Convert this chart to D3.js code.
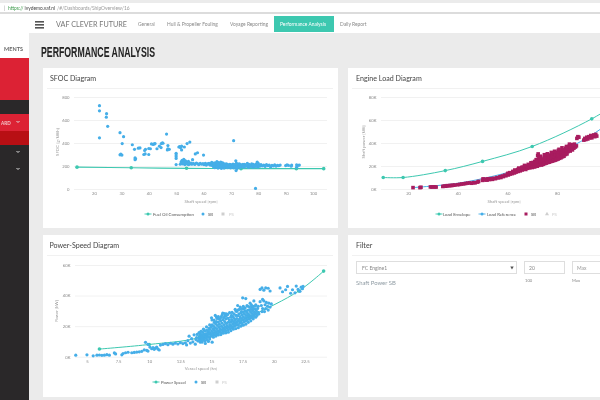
<!DOCTYPE html>
<html>
<head>
<meta charset="utf-8">
<script src="https://cdn.jsdelivr.net/npm/d3@7"></script>
<style>
  html, body { margin: 0; padding: 0; background: #ebebeb; overflow: hidden; }
  svg { display: block; font-family: Lato, "Open Sans", sans-serif; filter: blur(0.4px); }
</style>
</head>
<body>
<svg id="page" width="600" height="400"></svg>
<script>
// tabs and tick labels
const navTabs = ["General", "Hull & Propeller Fouling", "Voyage Reporting", "Performance Analysis", "Daily Report"];
const navTabX = [138, 167, 230, 280, 340];
const sfocTicks = [0, 200, 400, 600, 800];
const sfocSpeedTicks = [20, 30, 40, 50, 60, 70, 80, 90, 100];
const loadTicks = [0, 20000, 40000, 60000, 80000];
const loadSpeedTicks = [20, 40, 60, 80];
const powerTicks = [0, 20000, 40000, 60000];
const vesselSpeedTicks = [5, 7.5, 10, 12.5, 15, 17.5, 20, 22.5];

// lines, [x, y]
const fuelOilConsumption = [[13.8, 190], [33.6, 185], [53.8, 180], [73.7, 177], [93.9, 177], [103.9, 177]];
const loadEnvelope = [[10, 10000], [18, 10000], [35, 16000], [50, 24000], [70, 37000], [94, 61000], [106, 77000]];
const loadReference = [[22, 1200], [40, 5000], [55, 11500], [65, 17500], [75, 25500], [85, 36000], [94, 47000], [106, 65000]];
const powerSpeed = [[6, 5000], [10, 8000], [14, 12500], [18, 26000], [22, 43000], [24, 56000]];

// SFOC scatter, [rpm, g/kWh]
const sfocSb = [
  [22, 725], [22, 680], [24.6, 655], [24.5, 625], [25, 545], [22, 445], [29.5, 490], [30.8, 455], [30.3, 395],
  [29.5, 297], [29.8, 303], [30.2, 295], [34, 385], [34.8, 345], [35, 270], [35, 255], [35.2, 262], [36.2, 355],
  [36.8, 357], [38.2, 300], [38.5, 335], [38.8, 345], [38.7, 305], [40, 300], [40, 352], [40.6, 350], [41, 392],
  [41.6, 388], [42, 392], [42.3, 395], [43, 350], [43.9, 372], [44.5, 360], [44.6, 395], [45, 402], [45.2, 398],
  [46.5, 478], [46.8, 340], [47, 350], [47, 378], [47.5, 345], [50, 310], [50, 295], [50, 280], [50, 265], [50, 212],
  [51, 365], [51.3, 368], [51.6, 360], [52, 372], [52, 340], [53, 365], [54, 395], [55, 408], [56, 255], [57, 305],
  [57.8, 315], [60, 295], [71, 420], [79, 5], [54.5, 240], [55, 222],
  [51.5, 215], [51.8, 235], [52, 225], [52.2, 250], [52.4, 218], [52.6, 240], [52.8, 258], [53, 228], [53.2, 212],
  [53.4, 245], [53.6, 222], [53.9, 235], [54.2, 215], [54.6, 212], [55.3, 218], [55.8, 215], [56.3, 222], [56.8, 214],
  [57.4, 226], [57.9, 218], [58.3, 212], [58.8, 222], [59.3, 215], [59.8, 220], [60.2, 212], [60.7, 222], [61.2, 215],
  [61.7, 220], [62.2, 212], [62.7, 218], [63, 232], [63.2, 205], [63.4, 222], [63.6, 195], [63.9, 215], [64.1, 185],
  [64.3, 228], [64.5, 205], [64.7, 192], [64.9, 238], [65.1, 215], [65.3, 182], [65.5, 200], [65.7, 225], [65.9, 190],
  [66.1, 212], [66.3, 235], [66.5, 180], [66.7, 202], [66.9, 222], [67.1, 192], [67.3, 212], [67.5, 182], [67.8, 205],
  [68.1, 195], [68.4, 218], [68.7, 186], [69, 208], [69.3, 196], [69.6, 214], [69.9, 184], [70.2, 204], [70.5, 192],
  [70.8, 216], [71.1, 184], [71.4, 206], [71.6, 196], [71.8, 245], [71.9, 160], [72, 225], [72.2, 178], [72.5, 210],
  [72.8, 192], [73.1, 218], [73.4, 186], [73.7, 206], [74, 196], [74.4, 214], [74.8, 190], [75.2, 208], [75.6, 198],
  [76, 222], [76.4, 188], [76.8, 208], [77.2, 196], [77.6, 218], [78, 190], [78.4, 206], [78.8, 198], [79.2, 216],
  [79.6, 235], [79.8, 190], [80.2, 208], [80.6, 198], [81, 212], [81.5, 200], [82, 208], [82.5, 196], [83, 212],
  [83.5, 202], [84, 208], [84.5, 192], [85, 206], [85.5, 200], [86, 210], [86.5, 198], [87, 206], [87.5, 202],
  [88, 208], [90, 204], [90.5, 210], [91, 206], [92, 198], [92.2, 208], [94, 190], [94, 210], [94.6, 206], [95, 208],
  [52.1, 238], [52.3, 228], [52.7, 226], [53.1, 240], [53.5, 232], [54, 224], [54.8, 228], [55.5, 225], [60.4, 216],
  [61, 208], [62, 224], [62.5, 208], [63.3, 214], [63.8, 226], [64, 200], [64.4, 216], [64.8, 224], [65, 196],
  [65.2, 206], [65.4, 230], [65.6, 188], [65.8, 212], [66, 198], [66.2, 222], [66.4, 192], [66.6, 214], [66.8, 186],
  [67, 228], [67.2, 200], [67.4, 218], [67.6, 194], [67.9, 216], [68.2, 206], [68.5, 198], [68.8, 212], [69.1, 190],
  [69.4, 204], [69.7, 198], [70, 212], [70.3, 190], [70.6, 206], [70.9, 200], [71.2, 212], [71.5, 190], [72.3, 200],
  [72.6, 216], [72.9, 204], [73.2, 196], [73.6, 212], [74.2, 204], [74.6, 198], [75, 214], [75.4, 200], [76.2, 204],
  [76.6, 214], [77, 202], [77.4, 208], [78.2, 214], [78.6, 192], [79, 208], [79.4, 200], [80, 222], [80.4, 204]
];

// engine load scatter, [rpm, kW]
const loadSb = [
  [22, 1200], [24.8, 1200], [25.2, 1500], [29, 1800], [29.6, 1700], [30.2, 1900], [30.8, 1800], [31.3, 1700],
  [34, 2200], [34.6, 2600], [35.2, 2400], [35.8, 2900], [36.4, 2800], [37, 3100], [37.6, 3000], [38.2, 3300], [38.8, 3400],
  [40, 3700], [40.8, 4000], [41.6, 4300], [42.4, 4500], [43.2, 4800], [44, 5100], [44.8, 5300], [45.6, 5000], [46.4, 5500],
  [47, 5400], [48, 6000], [48.4, 6600], [50, 7500], [50.2, 8800], [50.8, 7800], [51.2, 8600], [51.8, 7700], [52.2, 8900],
  [52.8, 8200], [53.4, 9000], [54, 8400], [54.6, 9300], [55.2, 9000], [55.8, 9900], [56.4, 9700], [57, 10600], [57.4, 10000],
  [58, 11300], [58.4, 10800], [59, 12000], [59.4, 11500], [60, 12800], [60.4, 12200], [60.8, 13500], [61.2, 13000],
  [61.6, 14000], [62, 13400], [62.4, 14700], [62.8, 14000], [63.2, 15400], [63.6, 14800], [64, 16200], [64.4, 15300],
  [64.8, 17000], [65.2, 15800], [65.6, 17500], [66, 16500], [66.3, 19000], [66.6, 17400], [67, 18500], [67.4, 17000],
  [67.8, 20000], [68.2, 18000], [68.6, 19400], [69, 18400], [69.3, 21000], [69.6, 19000], [70, 20000], [70.2, 23000],
  [70.5, 19400], [70.8, 22000], [71, 24000], [71.3, 20000], [71.6, 25500], [71.9, 21000], [72.2, 29000], [72.4, 23500],
  [72.7, 27000], [73, 21500], [73.3, 28500], [73.6, 24500], [73.9, 22000], [74.2, 26000], [74.5, 23000], [74.8, 27500],
  [75.1, 24500], [75.4, 23000], [75.7, 29000], [76, 25500], [76.3, 27500], [76.6, 24000], [76.9, 29500], [77.2, 26500],
  [77.5, 24800], [77.8, 30000], [78.1, 27500], [78.4, 25500], [78.7, 31000], [79, 28500], [79.3, 26000], [79.6, 32000],
  [79.9, 29500], [80.2, 27000], [80.5, 33500], [80.8, 30500], [81.1, 28000], [81.4, 33000], [81.7, 30500], [82, 29000],
  [82.3, 34000], [82.6, 32000], [82.9, 30000], [83.2, 32500], [83.5, 35500], [83.8, 31500], [84.1, 34000], [84.4, 32500],
  [84.7, 37000], [85, 34500], [85.3, 33000], [85.6, 38500], [85.9, 35500], [86.2, 34000], [86.5, 37000], [86.8, 35500],
  [87, 39000], [87.4, 36500], [87.8, 37500], [88, 44000], [88.4, 45500], [88.8, 45000], [90.8, 42500], [91.2, 44000],
  [91.6, 43000], [92, 45000], [92.4, 43500], [92.8, 45500], [93.2, 44500], [93.6, 46500], [94, 44500], [94.4, 46000],
  [94.8, 47000], [95.2, 45500], [95.6, 47500], [96, 46000],
  [60.2, 13600], [61, 14200], [62.2, 15300], [63, 14500], [64.2, 17000], [65, 16600], [66.1, 18000], [67.2, 19500],
  [68, 19300], [68.8, 20800], [69.8, 21600], [70.4, 21000], [71.1, 22600], [71.8, 23400], [72.1, 24800], [72.9, 25800],
  [73.4, 23300], [74, 24800], [74.6, 25600], [75.2, 26500], [75.8, 24500], [76.4, 26000], [77, 28000], [77.6, 27500],
  [78.2, 29000], [78.8, 27200], [79.4, 30000], [80, 31000], [80.6, 29000], [81.2, 31500], [81.8, 32300], [82.4, 31000],
  [83, 33500], [83.6, 33800], [84.2, 35500], [84.8, 35800], [85.4, 36500], [86, 37500], [86.6, 38500],
  // lower and upper edges of the band
  [63, 16500], [64.6, 18200], [65.8, 18800], [66.9, 20500], [68.4, 21400], [69.5, 22800], [70, 18700], [71, 19200],
  [72, 19800], [72.6, 20500], [73.2, 26500], [73.8, 20800], [74.4, 21500], [75, 22000], [75.6, 22500], [76.2, 23000],
  [76.8, 23300], [77.4, 23800], [78, 24200], [78.6, 24600], [79.2, 25000], [79.8, 25500], [80.4, 26000], [81, 26700],
  [81.6, 27200], [82.2, 28000], [82.8, 28500], [83.4, 30000], [84, 30500], [72.4, 30500], [74.9, 29800], [76.1, 30600],
  [77.7, 31800], [79, 32800], [80.8, 34500], [82, 35800], [83.8, 37000], [85, 39000]
];

// power-speed scatter, [kn, kW]
const powerSb = [
  [4.1, 1000], [5, 1200], [5.5, 600], [5.8, 1000], [6, 1100], [6.2, 900], [6.4, 1000], [6.6, 1300], [6.8, 1000],
  [7.2, 2500], [7.3, 1800], [7.8, 1200], [7.9, 2100], [8.1, 2600], [8.3, 2900], [8.6, 2600], [8.8, 2800], [9, 3000],
  [9.2, 3200], [9.4, 3500], [9.6, 4500], [9.8, 4100], [9.9, 3700], [9.7, 9400], [9.9, 8000], [10.05, 6300], [10.2, 5200],
  [10.3, 6000], [10.4, 4800], [10.5, 5600], [10.6, 6200], [10.7, 5000], [10.8, 4400],
  [10.9, 7600], [11.1, 8000], [11.3, 8500], [11.5, 7900], [11.7, 8800], [11.9, 8200], [12.1, 8900], [12.3, 8300],
  [12.5, 9200], [12.7, 8600], [12.9, 9100], [13, 7700], [13.1, 10500], [13.2, 13400], [13.3, 8900], [13.4, 11800],
  [13.5, 9700], [13.6, 14300], [13.7, 8200], [13.8, 12500], [13.9, 10300], [14, 15800], [14.1, 9500], [14.2, 13000],
  [14.4, 17500], [14.5, 8700], [14.75, 10000], [14.8, 18500], [15, 25500], [15.05, 9500], [15.2, 24000], [15.4, 26000],
  [15.7, 25000], [15.9, 28500], [16.1, 26500], [16.2, 28000], [16.65, 29000], [16.95, 30000], [17.1, 33500], [17.25, 31000],
  [17.4, 29500], [17.5, 38500], [17.6, 31500], [17.75, 38000], [17.85, 33500], [18.1, 35000], [18.25, 32500], [18.4, 36500],
  [18.55, 34000], [18.75, 33000], [18.9, 36000], [19, 33500], [19.05, 29500], [19.1, 37500], [19.1, 31500], [19.2, 36500],
  [19.25, 29500], [19.3, 34000], [19.35, 31500], [19.4, 35500], [19.5, 33000], [19.55, 30500], [19.6, 35000], [19.7, 32500],
  [19.8, 34500],
  [18.9, 44000], [19.05, 45000], [19.2, 43500], [19.35, 45000], [19.55, 44800], [19.7, 43000],
  [20.5, 45000], [20.7, 42500], [20.95, 43800], [21.1, 46000], [21.35, 41500], [21.5, 43800], [21.7, 41800], [21.8, 46200],
  [21.95, 44000], [22.1, 42800], [22.2, 45500], [22.3, 44500], [22.35, 46000],
  // dense core
  [14, 10600], [14.02, 12200], [14.05, 13900], [14.08, 11300], [14.1, 15200], [14.14, 12800], [14.18, 10900], [14.2, 14300],
  [14.24, 11800], [14.28, 13300], [14.3, 15900], [14.34, 11200], [14.38, 12600], [14.4, 14700], [14.44, 13600], [14.48, 12000],
  [14.5, 16800], [14.53, 15000], [14.56, 13200], [14.6, 12400], [14.63, 17300], [14.66, 14200], [14.7, 15800], [14.73, 13000],
  [14.76, 16400], [14.8, 14800], [14.83, 12800], [14.86, 17800], [14.9, 15400], [14.93, 13600], [14.96, 19400], [15, 14200],
  [15.02, 16600], [15.05, 20800], [15.08, 13400], [15.1, 18200], [15.13, 15600], [15.16, 20000], [15.2, 14400], [15.23, 17200],
  [15.26, 19000], [15.3, 15200], [15.33, 21400], [15.36, 16400], [15.4, 18400], [15.43, 14800], [15.46, 20400], [15.5, 17000],
  [15.53, 22600], [15.56, 15600], [15.6, 19200], [15.63, 21200], [15.66, 16600], [15.7, 18000], [15.73, 23400], [15.76, 15800],
  [15.8, 20000], [15.83, 22000], [15.86, 17400], [15.9, 19000], [15.93, 24200], [15.96, 16600], [16, 21000], [16.03, 18000],
  [16.06, 23000], [16.1, 19600], [16.13, 17000], [16.16, 24800], [16.2, 21800], [16.23, 18600], [16.26, 20200], [16.3, 25200],
  [16.33, 17600], [16.36, 22600], [16.4, 19400], [16.43, 24000], [16.46, 21000], [16.5, 18400], [16.53, 25800], [16.56, 22600],
  [16.6, 20000], [16.63, 24200], [16.66, 19000], [16.7, 21400], [16.73, 26200], [16.76, 23000], [16.8, 19800], [16.83, 25000],
  [16.86, 21800], [16.9, 23800], [16.93, 20400], [16.96, 27000], [17, 22400], [17.03, 25000], [17.06, 21000], [17.1, 26800],
  [17.13, 23400], [17.16, 20800], [17.2, 28000], [17.23, 24400], [17.26, 22000], [17.3, 26200], [17.33, 23000], [17.36, 28600],
  [17.4, 25000], [17.43, 21800], [17.46, 27400], [17.5, 24000], [17.53, 29400], [17.56, 26000], [17.6, 22800], [17.63, 28200],
  [17.66, 25000], [17.7, 30000], [17.73, 23400], [17.76, 27000], [17.8, 25400], [17.83, 29000], [17.86, 24000], [17.9, 30400],
  [17.93, 26600], [17.96, 28000], [18, 24800], [18.03, 30600], [18.06, 27000], [18.1, 25200], [18.13, 29400], [18.16, 31000],
  [18.2, 26400], [18.23, 28400], [18.26, 25600], [18.3, 30200], [18.33, 27400], [18.36, 31400], [18.4, 26400], [18.43, 29000],
  [18.46, 27600], [18.5, 31000], [18.55, 28400], [18.6, 30000], [18.65, 27000], [18.7, 31600], [18.75, 29000], [18.8, 28000],
  [15.04, 24000], [15.22, 22400], [15.38, 23000], [15.44, 25000], [15.62, 24600], [15.78, 26000], [15.98, 25600], [16.18, 27000],
  // wider spread round the core
  [15.3, 27000], [15.55, 26200], [15.85, 27200], [16.05, 28200], [16.3, 27600], [16.45, 28800], [16.6, 27000], [16.8, 28000],
  [16.9, 31000], [17.02, 29600], [17.15, 30600], [17.3, 32500], [17.45, 31500], [17.55, 33000], [17.7, 32000], [17.9, 33000],
  [18.05, 32600], [18.2, 34000], [18.35, 33000], [18.5, 33000], [16.35, 16000], [16.55, 17000], [16.75, 18000], [16.95, 18400],
  [17.15, 19000], [17.35, 20000], [17.55, 20600], [17.75, 21300], [17.95, 22500], [18.15, 23500], [18.35, 24800], [18.55, 25800],
  [15.15, 12800], [15.35, 13500], [15.55, 14200], [15.75, 14500], [15.95, 15400], [16.15, 15600], [14.25, 9600], [14.45, 10500],
  [14.65, 10900], [14.85, 11500], [13.85, 14600], [13.75, 11200], [14.15, 16600], [14.35, 18000], [14.6, 19500], [14.85, 20800]
];

const TEAL = "#3dc8b0", BLUE = "#45aee8", MAROON = "#a81c5f", GREY = "#cfcfcf";
const svg = d3.select("#page");

function box(x, y, w, h, fill, stroke) {
  return svg.append("rect").attr("x", x).attr("y", y).attr("width", w).attr("height", h)
    .attr("fill", fill).attr("stroke", stroke || "none");
}
function label(g, x, y, str, size, fill, anchor) {
  return g.append("text").attr("x", x).attr("y", y).attr("font-size", size).attr("fill", fill)
    .attr("text-anchor", anchor || "start").text(str);
}

// browser bar and nav
box(0, 0, 600, 400, "#ebebeb");
box(0, 3, 600, 9, "#ffffff");
box(0, 12, 600, 2, "#dcdcdc");
box(0, 14, 600, 19, "#ffffff");
label(svg, 4, 9.5, "|", 5, "#999");
label(svg, 8, 9.5, "https://", 4.9, "#3c9a4a");
label(svg, 24.5, 9.5, "ivydemo.vaf.nl", 4.9, "#444");
label(svg, 57, 9.5, "/#/Dashboards/ShipOverview/16", 4.9, "#999");
[21, 24, 27].forEach(y => box(35, y, 9, 1.6, "#555"));
label(svg, 56, 27, "VAF CLEVER FUTURE", 7.6, "#777").attr("textLength", 71).attr("lengthAdjust", "spacingAndGlyphs");
box(274, 16, 60, 16, TEAL);
navTabs.forEach((t, i) => label(svg, navTabX[i], 26, t, 4.9, t === "Performance Analysis" ? "#fff" : "#888"));

// sidebar
box(0, 33, 29, 25, "#ffffff");
box(0, 58, 29, 342, "#2a2829");
box(0, 58, 29, 42, "#dc2234");
box(0, 114, 29, 17, "#dc2234");
box(0, 131, 29, 14, "#b80f14");
label(svg, 23, 51, "MENTS", 5.5, "#666", "end").attr("font-weight", 700);
label(svg, 1, 124.5, "ARD", 4.6, "#f3c4c8").attr("font-weight", 700);
[[18, 122], [18, 152], [18, 169]].forEach(([x, y]) => {
  svg.append("path").attr("d", `M${x - 1.5},${y - 1}L${x},${y + 0.5}L${x + 1.5},${y - 1}`)
    .attr("fill", "none").attr("stroke", "#ddd").attr("stroke-width", 1);
});
label(svg, 41, 57, "PERFORMANCE ANALYSIS", 14, "#222")
  .attr("font-family", "'Liberation Sans Narrow', 'Liberation Sans', sans-serif")
  .attr("font-weight", 700).attr("textLength", 114).attr("lengthAdjust", "spacingAndGlyphs");

// one chart card: title, grid, axes, legend
function chartCard(o) {
  box(o.card[0], o.card[1], o.card[2], o.card[3], "#ffffff");
  label(svg, o.titleX, o.card[1] + 12.5, o.title, 7.1, "#444");
  box(o.card[0] + 4, o.card[1] + 20, o.card[2] - 9, 0.8, "#eeeeee");

  const x = d3.scaleLinear().domain(o.xDomain).range([o.left, o.right]);
  const y = d3.scaleLinear().domain(o.yDomain).range([o.bottom, o.top]);

  const yAxis = svg.append("g").attr("transform", `translate(${o.left},0)`)
    .call(d3.axisLeft(y).tickValues(o.yTicks).tickSize(-(o.right - o.left)).tickPadding(4.5).tickFormat(o.yFormat));
  yAxis.select(".domain").remove();
  yAxis.selectAll("line").attr("stroke", "#eeeeee").attr("stroke-width", 0.8);
  yAxis.selectAll("text").attr("font-size", 4.2).attr("fill", "#888").attr("font-family", "Lato");

  const xAxis = svg.append("g").attr("transform", `translate(0,${o.bottom})`)
    .call(d3.axisBottom(x).tickValues(o.xTicks).tickSize(0).tickPadding(3.5).tickFormat(d => d));
  xAxis.select(".domain").remove();
  xAxis.selectAll("text").attr("font-size", 4.2).attr("fill", "#888").attr("font-family", "Lato");

  label(svg, o.xLabelX, o.bottom + 13.5, o.xLabel, 4.3, "#999", "middle");
  svg.append("text").attr("transform", `translate(${o.yLabelX},${o.yLabelY}) rotate(-90)`)
    .attr("text-anchor", "middle").attr("font-size", 4.3).attr("fill", "#999").text(o.yLabel);

  const line = d3.line().x(d => x(d[0])).y(d => y(d[1])).curve(d3.curveCatmullRom.alpha(0.5));
  o.lines.forEach(l => {
    svg.append("path").datum(l.data).attr("d", line).attr("fill", "none")
      .attr("stroke", l.color).attr("stroke-width", l.width || 1);
    svg.append("g").selectAll("circle").data(l.dots ? l.data : []).join("circle")
      .attr("cx", d => x(d[0])).attr("cy", d => y(d[1])).attr("r", 1.8).attr("fill", l.color);
  });

  if (o.square) {
    svg.append("g").selectAll("rect").data(o.points).join("rect")
      .attr("x", d => x(d[0]) - 1.8).attr("y", d => y(d[1]) - 1.8)
      .attr("width", 3.6).attr("height", 3.6).attr("fill", o.pointColor);
  } else {
    svg.append("g").selectAll("circle").data(o.points).join("circle")
      .attr("cx", d => x(d[0])).attr("cy", d => y(d[1])).attr("r", 1.6).attr("fill", o.pointColor);
  }

  o.legend.forEach(k => {
    if (k.line) svg.append("line").attr("x1", k.x - 3.5).attr("x2", k.x + 3.5).attr("y1", o.legendY).attr("y2", o.legendY)
      .attr("stroke", k.color).attr("stroke-width", 0.9);
    if (k.shape === "rect") box(k.x - 1.5, o.legendY - 1.5, 3, 3, k.color);
    else if (k.shape === "tri") svg.append("path").attr("transform", `translate(${k.x},${o.legendY})`)
      .attr("d", d3.symbol(d3.symbolTriangle, 7)).attr("fill", k.color);
    else svg.append("circle").attr("cx", k.x).attr("cy", o.legendY).attr("r", 1.5).attr("fill", k.color);
    label(svg, k.tx, o.legendY + 1.6, k.name, 4.3, k.name === "PS" ? "#ccc" : "#555");
  });
}

const kFormat = d => (d / 1000) + "K";

chartCard({
  card: [43, 68, 295, 160], title: "SFOC Diagram", titleX: 50,
  left: 74, right: 327, top: 97, bottom: 189, xDomain: [12.7, 105.1], yDomain: [0, 800],
  xTicks: sfocSpeedTicks, yTicks: sfocTicks, xLabel: "Shaft speed [rpm]", xLabelX: 201,
  yLabel: "SFOC [g/kWh]", yLabelX: 59, yLabelY: 142,
  lines: [{ data: fuelOilConsumption, color: TEAL, width: 1.2, dots: true }],
  points: sfocSb, pointColor: BLUE, legendY: 214,
  legend: [
    { name: "Fuel Oil Consumption", x: 148, tx: 153, color: TEAL, line: true },
    { name: "SB", x: 203, tx: 208, color: BLUE },
    { name: "PS", x: 223, tx: 229, color: GREY, shape: "rect" }
  ]
});

chartCard({
  card: [348, 68, 260, 160], title: "Engine Load Diagram", titleX: 356,
  left: 381, right: 634, top: 97, bottom: 189, xDomain: [9.1, 111], yDomain: [0, 80000],
  xTicks: loadSpeedTicks, yTicks: loadTicks, yFormat: kFormat, xLabel: "Shaft speed [rpm]", xLabelX: 504,
  yLabel: "Shaft power [kW]", yLabelX: 365, yLabelY: 142,
  lines: [
    { data: loadEnvelope, color: TEAL, dots: true },
    { data: loadReference, color: BLUE }
  ],
  points: loadSb, pointColor: MAROON, square: true, legendY: 214,
  legend: [
    { name: "Load Envelope", x: 439, tx: 443, color: TEAL, line: true },
    { name: "Load Reference", x: 482, tx: 487, color: BLUE, line: true },
    { name: "SB", x: 526, tx: 531, color: MAROON, shape: "rect" },
    { name: "PS", x: 547, tx: 552, color: GREY, shape: "tri" }
  ]
});

chartCard({
  card: [43, 235, 295, 162], title: "Power-Speed Diagram", titleX: 49.5,
  left: 75, right: 327, top: 265, bottom: 356.7, xDomain: [4.04, 24.27], yDomain: [0, 60000],
  xTicks: vesselSpeedTicks, yTicks: powerTicks, yFormat: kFormat, xLabel: "Vessel speed [kn]", xLabelX: 201,
  yLabel: "Power [kW]", yLabelX: 58, yLabelY: 311,
  lines: [{ data: powerSpeed, color: TEAL, dots: true }],
  points: powerSb, pointColor: BLUE, legendY: 382,
  legend: [
    { name: "Power Speed", x: 156, tx: 161, color: TEAL, line: true },
    { name: "SB", x: 196, tx: 201, color: BLUE },
    { name: "PS", x: 217, tx: 222, color: GREY, shape: "rect" }
  ]
});

// filter card
box(348, 235, 260, 162, "#ffffff");
label(svg, 356, 247.5, "Filter", 7.1, "#444");
box(352, 255, 260, 0.8, "#eeeeee");
box(356.5, 261.5, 160, 12, "#ffffff", "#dedede");
label(svg, 362, 269.5, "FC Engine1", 5, "#888");
svg.append("path").attr("d", d3.symbol(d3.symbolTriangle, 5)).attr("transform", "translate(512,267.5) rotate(180)").attr("fill", "#555");
box(524.5, 261.5, 40, 12, "#ffffff", "#dedede");
label(svg, 529, 269.5, "20", 5, "#888");
box(572.5, 261.5, 40, 12, "#ffffff", "#dedede");
label(svg, 577, 269.5, "Max", 5, "#999");
label(svg, 356, 284.5, "Shaft Power SB", 5.9, "#8f9ba3");
label(svg, 525, 282, "100", 4.2, "#888");
label(svg, 572, 282, "Max", 4.2, "#888");
</script>
</body>
</html>
